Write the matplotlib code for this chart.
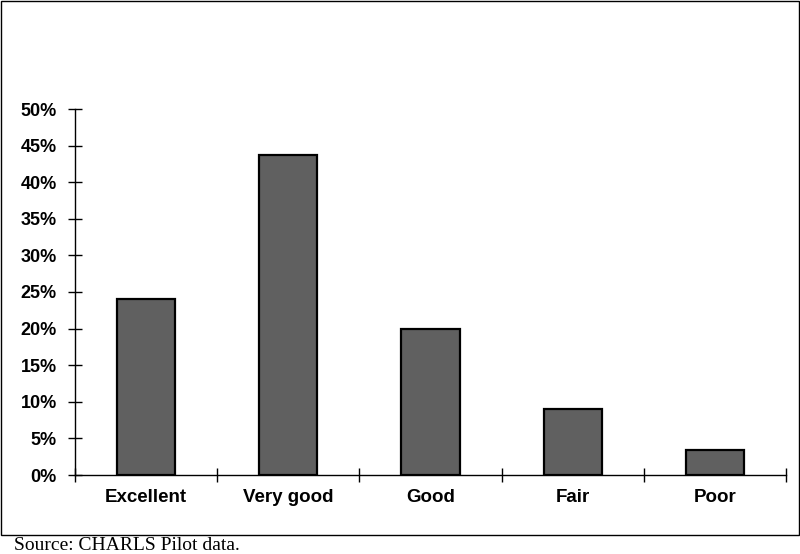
import matplotlib
matplotlib.use("Agg")
import matplotlib.pyplot as plt
from matplotlib.patches import Rectangle
from matplotlib.ticker import FuncFormatter, MultipleLocator, FixedLocator

categories = ["Excellent", "Very good", "Good", "Fair", "Poor"]
values = [24.1, 43.7, 20.0, 9.0, 3.4]
source = "Source: CHARLS Pilot data."

fig = plt.figure(figsize=(8, 5.54), dpi=100)
ax = fig.add_axes([75/800, 1-475/554, (786-75)/800, (475-109)/554])

x = list(range(len(categories)))
ax.bar(x, values, width=0.41, color="#606060", edgecolor="black", linewidth=1.6, zorder=3)
ax.set_xlim(-0.5, len(categories)-0.5)
ax.set_ylim(0, 50)
ax.yaxis.set_major_locator(MultipleLocator(5))
ax.yaxis.set_major_formatter(FuncFormatter(lambda v, p: f"{v:.0f}%"))
ax.xaxis.set_major_locator(FixedLocator([i-0.5 for i in range(len(categories)+1)]))
ax.xaxis.set_ticklabels([])
ax.xaxis.set_minor_locator(FixedLocator(x))
ax.xaxis.set_ticklabels(categories, minor=True)

for s in ["top", "right"]:
    ax.spines[s].set_visible(False)
for s in ["left", "bottom"]:
    ax.spines[s].set_linewidth(1.0)

ax.tick_params(axis="y", direction="inout", length=10, width=1, pad=8,
               labelsize=13)
ax.tick_params(axis="x", which="major", direction="inout", length=10, width=1)
ax.tick_params(axis="x", which="minor", length=0, pad=10, labelsize=13.5)
for lab in ax.get_yticklabels() + ax.get_xticklabels(minor=True):
    lab.set_fontfamily("Liberation Sans")
    lab.set_fontweight("bold")

fig.patches.append(Rectangle((1/800, 1-535/554), 798/800, 534/554,
                             transform=fig.transFigure, fill=False,
                             edgecolor="black", linewidth=1.0))
fig.text(14/800, 1-546/554, source, family="Liberation Serif", fontsize=14,
         va="center", ha="left")

fig.savefig("out.png", dpi=100)
